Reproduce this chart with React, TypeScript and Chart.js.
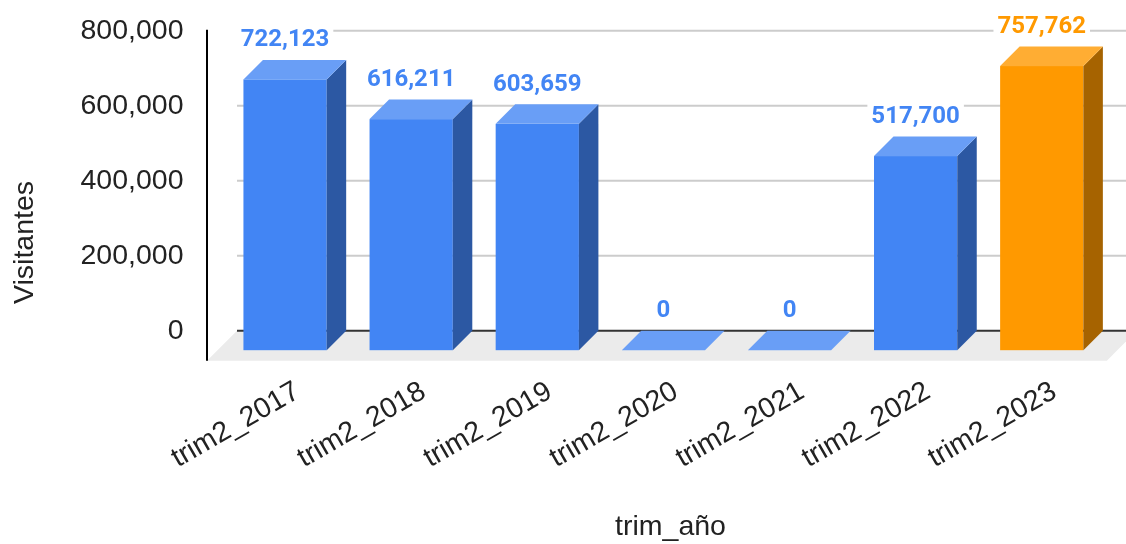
import React, { useEffect, useRef } from 'react';
import { Chart, registerables } from 'chart.js';

Chart.register(...registerables);

// ---- data ----
const categories = ['trim2_2017', 'trim2_2018', 'trim2_2019', 'trim2_2020', 'trim2_2021', 'trim2_2022', 'trim2_2023'];
const visitantes = [722123, 616211, 603659, 0, 0, 517700, 757762];
const highlighted = [false, false, false, false, false, false, true];
const yTickValues = [0, 200000, 400000, 600000, 800000];
const xAxisTitle = 'trim_año';
const yAxisTitle = 'Visitantes';

// ---- style ----
const BLUE = { front: '#4285F4', top: '#699EF6', side: '#2C58A3', label: '#4285F4' };
const ORANGE = { front: '#FF9900', top: '#FFAD33', side: '#A66300', label: '#FF9900' };
const DX = 19.5;
const DY = 19.5;
const FLOOR_DEPTH = 30;
const TICK_FONT = '"Liberation Sans", Arial, sans-serif';
const TEXT_COLOR = '#222222';

const fmt = (v: number) => v.toLocaleString('en-US');

const threeDPlugin = {
  id: 'threeD',
  beforeDatasetsDraw(chart: any) {
    const ctx = chart.ctx;
    const ca = chart.chartArea;
    const ys = chart.scales.y;
    const base = ys.getPixelForValue(0);
    const gridLeft = ca.left - 4.5;
    const axisX = gridLeft - FLOOR_DEPTH;
    const floorRightBack = ca.right + 12.5;
    ctx.save();
    // floor
    ctx.fillStyle = '#EBEBEB';
    ctx.beginPath();
    ctx.moveTo(gridLeft, base);
    ctx.lineTo(floorRightBack, base);
    ctx.lineTo(floorRightBack - FLOOR_DEPTH, base + FLOOR_DEPTH);
    ctx.lineTo(axisX, base + FLOOR_DEPTH);
    ctx.closePath();
    ctx.fill();
    // gridlines
    ctx.lineWidth = 2;
    ctx.strokeStyle = '#CCCCCC';
    yTickValues.forEach((v) => {
      if (v === 0) return;
      const y = ys.getPixelForValue(v);
      ctx.beginPath();
      ctx.moveTo(gridLeft, y);
      ctx.lineTo(chart.width, y);
      ctx.stroke();
    });
    // baseline
    ctx.strokeStyle = '#333333';
    ctx.beginPath();
    ctx.moveTo(gridLeft, base);
    ctx.lineTo(chart.width, base);
    ctx.stroke();
    // axis line
    ctx.strokeStyle = '#000000';
    ctx.beginPath();
    ctx.moveTo(axisX, ys.getPixelForValue(800000) - 1);
    ctx.lineTo(axisX, base + FLOOR_DEPTH);
    ctx.stroke();
    ctx.restore();
  },
  afterDatasetsDraw(chart: any) {
    const ctx = chart.ctx;
    const meta = chart.getDatasetMeta(0);
    ctx.save();
    meta.data.forEach((el: any, i: number) => {
      const c = highlighted[i] ? ORANGE : BLUE;
      const w = el.width;
      const x0 = el.x - w / 2 - DX;
      const x1 = el.x + w / 2 - DX;
      const yTopF = el.y + DY;
      const yBaseF = el.base + DY;
      if (yBaseF - yTopF > 0.5) {
        // front
        ctx.fillStyle = c.front;
        ctx.fillRect(x0, yTopF, x1 - x0, yBaseF - yTopF);
        // side
        ctx.fillStyle = c.side;
        ctx.beginPath();
        ctx.moveTo(x1, yTopF);
        ctx.lineTo(x1 + DX, el.y);
        ctx.lineTo(x1 + DX, el.base);
        ctx.lineTo(x1, yBaseF);
        ctx.closePath();
        ctx.fill();
      }
      // top
      ctx.fillStyle = c.top;
      ctx.beginPath();
      ctx.moveTo(x0, yTopF);
      ctx.lineTo(x1, yTopF);
      ctx.lineTo(x1 + DX, el.y);
      ctx.lineTo(x0 + DX, el.y);
      ctx.closePath();
      ctx.fill();
    });
    // data labels
    ctx.font = 'bold 24px Roboto, "Liberation Sans", Arial, sans-serif';
    ctx.textAlign = 'center';
    ctx.textBaseline = 'alphabetic';
    meta.data.forEach((el: any, i: number) => {
      const c = highlighted[i] ? ORANGE : BLUE;
      const text = fmt(visitantes[i]);
      const cx = el.x - DX;
      const by = el.y - 13.5;
      const tw = ctx.measureText(text).width;
      ctx.fillStyle = '#FFFFFF';
      ctx.fillRect(cx - tw / 2 - 4, by - 20, tw + 8, 24);
      ctx.fillStyle = c.label;
      ctx.fillText(text, cx, by);
    });
    ctx.restore();
  },
  afterDraw(chart: any) {
    const ctx = chart.ctx;
    const ca = chart.chartArea;
    ctx.save();
    ctx.font = '28.5px ' + TICK_FONT;
    ctx.fillStyle = TEXT_COLOR;
    ctx.textAlign = 'center';
    ctx.textBaseline = 'alphabetic';
    ctx.fillText(xAxisTitle, (ca.left + ca.right) / 2 - 12.4, 535);
    ctx.translate(33, 242.5);
    ctx.rotate(-Math.PI / 2);
    ctx.fillText(yAxisTitle, 0, 0);
    ctx.restore();
  },
};

export default function App() {
  const ref = useRef<HTMLCanvasElement>(null);
  useEffect(() => {
    document.body.style.margin = '0';
    const chart = new Chart(ref.current as HTMLCanvasElement, {
      type: 'bar',
      data: {
        labels: categories,
        datasets: [
          {
            label: yAxisTitle,
            data: visitantes,
            backgroundColor: 'rgba(0,0,0,0)',
            borderWidth: 0,
            barPercentage: 0.66,
            categoryPercentage: 1,
          },
        ],
      },
      options: {
        animation: false,
        responsive: false,
        layout: { padding: { top: 30.7, right: 1.7, bottom: 0, left: 0 } },
        plugins: { legend: { display: false }, tooltip: { enabled: false } },
        scales: {
          x: {
            type: 'category',
            offset: true,
            grid: { display: false },
            border: { display: false },
            ticks: {
              autoSkip: false,
              minRotation: 30,
              maxRotation: 30,
              padding: 36,
              labelOffset: -7,
              color: TEXT_COLOR,
              font: { family: TICK_FONT, size: 28.5 },
            },
            afterFit: (s: any) => {
              s.height = 213.3;
              s.paddingLeft = 0;
              s.paddingRight = 0;
              s.paddingTop = 0;
              s.paddingBottom = 0;
            },
          },
          y: {
            min: 0,
            max: 800000,
            grid: { display: false },
            border: { display: false },
            ticks: {
              stepSize: 200000,
              padding: 50,
              color: TEXT_COLOR,
              font: { family: TICK_FONT, size: 28.5 },
              callback: (v: any) => fmt(Number(v)),
            },
            afterBuildTicks: (s: any) => {
              s.ticks = yTickValues.map((v) => ({ value: v }));
            },
            afterFit: (s: any) => {
              s.width = 241.5;
              s.paddingLeft = 0;
              s.paddingRight = 0;
              s.paddingTop = 0;
              s.paddingBottom = 0;
            },
          },
        },
      },
      plugins: [threeDPlugin],
    });
    return () => chart.destroy();
  }, []);
  return (
    <div style={{ width: 1126, height: 544 }}>
      <canvas ref={ref} width={1126} height={544} style={{ display: 'block' }} />
    </div>
  );
}
